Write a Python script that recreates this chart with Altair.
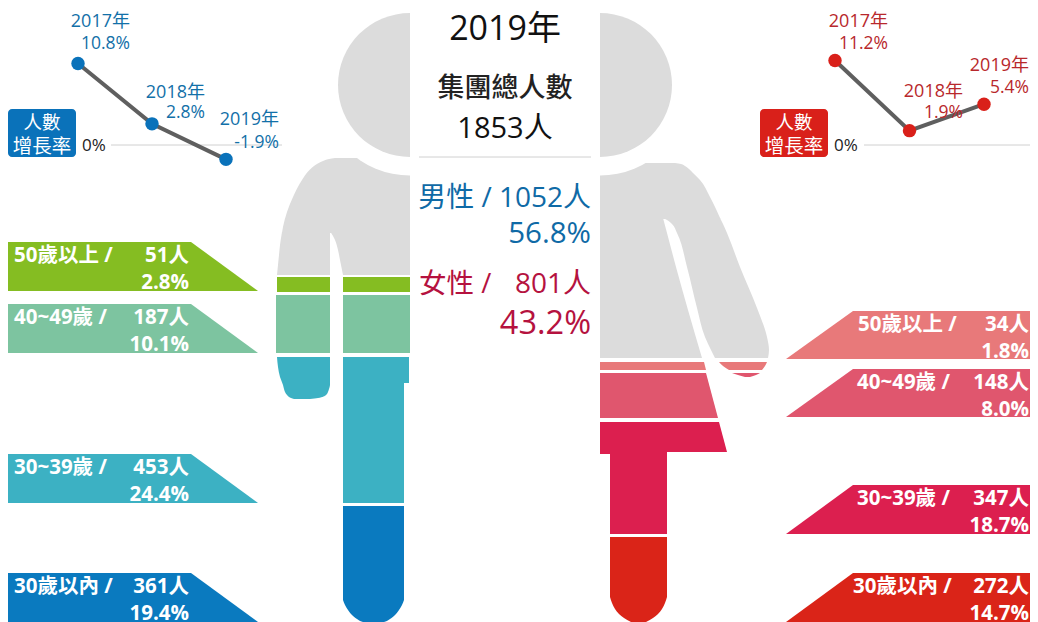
import altair as alt
import pandas as pd
from collections import defaultdict

# ---------- values ----------
YEARS = [2017, 2018, 2019]
MALE_GROWTH = [10.8, 2.8, -1.9]
FEMALE_GROWTH = [11.2, 1.9, 5.4]
YEAR_LABELS = ["2017年", "2018年", "2019年"]
MALE_GROWTH_LABELS = ["10.8%", "2.8%", "-1.9%"]
FEMALE_GROWTH_LABELS = ["11.2%", "1.9%", "5.4%"]
AGE_LABELS = ["50歲以上 /", "40~49歲 /", "30~39歲 /", "30歲以內 /"]
MALE_COUNTS = ["51人", "187人", "453人", "361人"]
MALE_SHARES = ["2.8%", "10.1%", "24.4%", "19.4%"]
FEMALE_COUNTS = ["34人", "148人", "347人", "272人"]
FEMALE_SHARES = ["1.8%", "8.0%", "18.7%", "14.7%"]

# ---------- styling ----------
FONT = "Open Sans, Noto Sans CJK TC, sans-serif"
GREY = "#dcdcdc"
M_COLORS = ["#85bd22", "#7dc4a0", "#3cb1c3", "#0a7abf"]
F_COLORS = ["#e8797a", "#e0566e", "#dc1f4f", "#da2418"]
BLUE_TXT, RED_TXT = "#1270a8", "#b8282c"

sx = alt.Scale(domain=[8, 1030], range=[0, 1022], nice=False, zero=False)
sy = alt.Scale(domain=[8, 622], range=[0, 614], nice=False, zero=False)
X = lambda f="x": alt.X(f"{f}:Q", scale=sx, axis=None)
Y = lambda f="y": alt.Y(f"{f}:Q", scale=sy, axis=None)

layers = []

# ---------- grey bodies first, then the white collar cut, then heads ----------
GREY_SHAPES = [
    # man: shoulders, arm, torso
    ([158, 159, 161, 164, 170, 180, 197, 212, 227, 233],
     [335, 329, 323, 317, 309.5, 302, 293, 287, 283, 282],
     [410] * 10),
    ([232, 245, 255, 265, 275], [282, 280, 279, 278, 277], [330] * 5),
    ([232, 236, 240, 250, 260, 275], [330.5, 333, 335, 338, 340, 343], [410] * 6),
    # woman: shoulders, torso, arm
    ([163, 164, 166, 169, 173, 180, 197, 219],
     [600] * 8,
     [675, 681, 685, 689, 693, 700, 710, 720.5]),
    ([218, 233, 267, 310, 358], [600] * 5, [663, 667, 676, 688, 702]),
    ([218, 220, 224, 233, 267, 308, 337, 350, 358],
     [663, 667, 672, 677, 687, 697, 705, 711, 715],
     [720, 721, 723, 727, 740, 757, 767, 769, 768]),
]
COLOR_SHAPES = [
    (M_COLORS[0], [277, 292], [277, 277], [330, 330]),
    (M_COLORS[0], [277, 292], [343, 343], [410, 410]),
    (M_COLORS[1], [295, 353], [276, 276], [330, 330]),
    (M_COLORS[1], [295, 353], [343, 343], [410, 410]),
    (M_COLORS[2], [357, 367, 377, 385, 389, 392, 395, 398, 399],
     [277, 278, 280, 283, 284, 285, 287, 291, 294], [330, 330, 330, 330, 329, 328, 326, 318, 310]),
    (M_COLORS[2], [357, 383], [343, 343], [409, 409]),
    (M_COLORS[2], [383, 503], [343, 343], [404, 404]),
    (M_COLORS[3], [506, 600], [343, 343], [404, 404]),
    (M_COLORS[3], [600, 605, 610, 615, 619, 622, 624],
     [343, 345, 348, 352, 357, 363, 373], [404, 402, 399, 395, 390, 384, 374]),
    (F_COLORS[0], [362, 370], [600, 600], [704, 706]),
    (F_COLORS[0], [362, 366, 370], [719, 723, 729], [767, 765, 762]),
    (F_COLORS[1], [373, 418], [600, 600], [706, 718]),
    (F_COLORS[1], [373, 375, 377], [732, 738, 745], [760, 756, 750]),
    (F_COLORS[2], [422, 452], [600, 600], [719, 727]),
    (F_COLORS[2], [451, 454], [600, 600], [667, 667]),
    (F_COLORS[2], [453, 534], [610, 610], [667, 667]),
    (F_COLORS[3], [537, 597], [610, 610], [667, 667]),
    (F_COLORS[3], [597, 603, 609, 614, 618, 622, 625],
     [610, 612, 615, 619, 624, 631, 638], [667, 665, 662, 658, 653, 646, 639]),
]
def area(col, ys, x1, x2):
    df = pd.DataFrame({"y": ys, "x": x1, "x2": x2})
    return (alt.Chart(df).mark_area(orient="horizontal", color=col, interpolate="monotone")
            .encode(x=X(), x2="x2:Q", y=Y()))

for ys, x1, x2 in GREY_SHAPES:
    layers.append(area(GREY, ys, x1, x2))

# collar cuts
for cx, t0, t1 in [(410, 3.14159, 6.28318), (600, 0, 3.14159)]:
    layers.append(alt.Chart(pd.DataFrame({"x": [cx], "y": [86]}))
                  .mark_arc(radius=89.5, theta=t0, theta2=t1, color="white")
                  .encode(x=X(), y=Y()))
# heads
for cx, t0, t1 in [(410, 3.14159, 6.28318), (600, 0, 3.14159)]:
    layers.append(alt.Chart(pd.DataFrame({"x": [cx], "y": [85]}))
                  .mark_arc(radius=72, theta=t0, theta2=t1, color=GREY)
                  .encode(x=X(), y=Y()))

for col, ys, x1, x2 in COLOR_SHAPES:
    layers.append(area(col, ys, x1, x2))

# ---------- banners ----------
L_TOPS = [(242, 291), (304, 353), (454, 503), (573, 622)]
R_TOPS = [(311, 359), (369, 417), (485, 534), (573, 622)]
for (t, b), col in zip(L_TOPS, M_COLORS):
    df = pd.DataFrame({"x": [8, 191, 258], "y": [t, t, b], "y2": [b, b, b]})
    layers.append(alt.Chart(df).mark_area(color=col, orient="vertical").encode(x=X(), y=Y(), y2="y2:Q"))
for (t, b), col in zip(R_TOPS, F_COLORS):
    df = pd.DataFrame({"x": [786, 853, 1030], "y": [b, t, t], "y2": [b, b, b]})
    layers.append(alt.Chart(df).mark_area(color=col, orient="vertical").encode(x=X(), y=Y(), y2="y2:Q"))

# ---------- growth-rate tags and zero rules ----------
for x0, x1, col in [(8, 76, "#0a72ba"), (760, 828, "#d9201a")]:
    layers.append(alt.Chart(pd.DataFrame({"x": [x0], "x2": [x1], "y": [109], "y2": [157]}))
                  .mark_rect(color=col, cornerRadius=4).encode(x=X(), x2="x2:Q", y=Y(), y2="y2:Q"))
for x0, x1 in [(111, 282), (864, 1030), (419, 591)]:
    yy = 157 if x0 == 419 else 145
    layers.append(alt.Chart(pd.DataFrame({"x": [x0], "x2": [x1], "y": [yy]}))
                  .mark_rule(color="#d0d0d0", strokeWidth=1).encode(x=X(), x2="x2:Q", y=Y()))

# ---------- sparklines, real values through their own scales ----------
def spark(vals, x_px, col):
    df = pd.DataFrame({"year": YEARS, "v": vals})
    xs = alt.X("year:Q", axis=None, scale=alt.Scale(domain=[2017, 2019], range=[x_px[0] - 8, x_px[1] - 8], nice=False, zero=False))
    ys = alt.Y("v:Q", axis=None, scale=alt.Scale(domain=[0, 10], range=[137, 61.5], nice=False, zero=False))
    base = alt.Chart(df).encode(x=xs, y=ys)
    return [base.mark_line(color="#5f5f5f", strokeWidth=4),
            base.mark_point(filled=True, color=col, size=180, opacity=1)]

# ---------- text ----------
texts = defaultdict(list)
def T(x, y, s, size, color, align="right", weight="normal"):
    texts[(size, color, align, weight)].append({"x": x, "y": y + 2, "t": s})

T(505, 28, "2019年", 34, "#111111", "center")
T(505, 87, "集團總人數", 27, "#222222", "center", 500)
T(505, 127, "1853人", 29, "#111111", "center")
T(591, 197, "男性 / 1052人", 28, "#0f6aa6")
T(591, 232, "56.8%", 29.5, "#0f6aa6")
T(419, 283, "女性 /", 27.5, "#b5123f", "left")
T(591, 283, "801人", 28, "#b5123f")
T(591, 322, "43.2%", 32.5, "#b5123f")

for i, (rt, yc, yp) in enumerate([(130, 20, 42), (205, 91, 111), (279, 118, 141)]):
    T(rt, yc, YEAR_LABELS[i], 18, BLUE_TXT)
    T(rt, yp, MALE_GROWTH_LABELS[i], 17.5, BLUE_TXT)
for i, (rt, yc, yp) in enumerate([(888, 20, 42), (963, 90, 111), (1029, 64, 86)]):
    T(rt, yc, YEAR_LABELS[i], 18, RED_TXT)
    T(rt, yp, FEMALE_GROWTH_LABELS[i], 17.5, RED_TXT)

for cx in (42, 794):
    T(cx, 121, "人數", 18.5, "white", "center")
    T(cx, 145, "增長率", 19.5, "white", "center")
T(82, 144, "0%", 17, "#222222", "left")
T(834, 144, "0%", 17, "#222222", "left")

R_LABEL_X = [858, 857, 857, 853]
for i, (t, b) in enumerate(L_TOPS):
    T(14, t + 12, AGE_LABELS[i], 20.5, "white", "left", "bold")
    T(189, t + 12, MALE_COUNTS[i], 20.5, "white", "right", "bold")
    T(189, t + 39, MALE_SHARES[i], 20.5, "white", "right", "bold")
for i, (t, b) in enumerate(R_TOPS):
    T(R_LABEL_X[i], t + 12, AGE_LABELS[i], 20.5, "white", "left", "bold")
    T(1029, t + 12, FEMALE_COUNTS[i], 20.5, "white", "right", "bold")
    T(1029, t + 39, FEMALE_SHARES[i], 20.5, "white", "right", "bold")

text_layers = []
for (size, color, align, weight), rows in texts.items():
    text_layers.append(alt.Chart(pd.DataFrame(rows))
                       .mark_text(font=FONT, fontSize=size, color=color, align=align, baseline="middle", fontWeight=weight)
                       .encode(x=X(), y=Y(), text="t:N"))

all_layers = layers + spark(MALE_GROWTH, (78, 226), "#0a72ba") + spark(FEMALE_GROWTH, (835, 984), "#d9201a") + text_layers

chart = (alt.layer(*all_layers)
         .resolve_scale(x="independent", y="independent")
         .properties(width=1022, height=614, padding=0, autosize=alt.AutoSizeParams(type="none"), background="white")
         .configure_view(stroke=None))

chart.save("out.html", embed_options={"renderer": "svg", "actions": False})
